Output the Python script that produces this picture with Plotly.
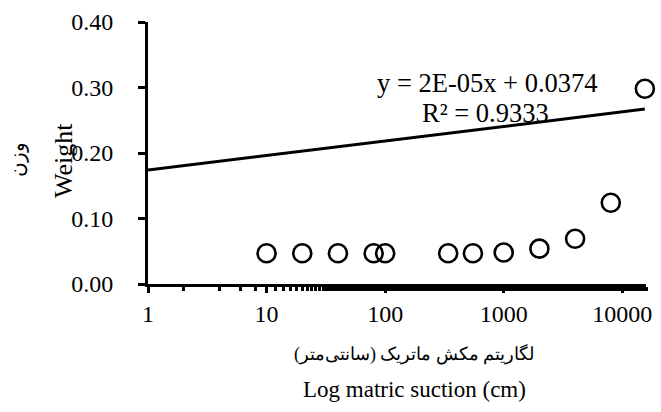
import plotly.graph_objects as go

# Data
suction_cm = [10, 20, 40, 80, 100, 340, 550, 1000, 2000, 4000, 8000, 15500]
weight = [0.047, 0.047, 0.047, 0.047, 0.047, 0.047, 0.047, 0.048, 0.054, 0.069, 0.124, 0.298]
trend_x = [1, 15500]
trend_y = [0.174, 0.267]
x_tickvals = [1, 10, 100, 1000, 10000]
x_ticktext = ["1", "10", "100", "1000", "10000"]
y_tickvals = [0.0, 0.1, 0.2, 0.3, 0.4]

FONT = "Liberation Serif, Times New Roman, serif"

fig = go.Figure()
fig.add_trace(go.Scatter(x=trend_x, y=trend_y, mode="lines",
                         line=dict(color="black", width=3), cliponaxis=False,
                         showlegend=False))
fig.add_trace(go.Scatter(x=suction_cm, y=weight, mode="markers",
                         marker=dict(symbol="circle-open", size=18, color="black",
                                     line=dict(width=2.6, color="black")),
                         cliponaxis=False, showlegend=False))

L, R, T, B = 148, 9, 20, 128
fig.update_layout(
    width=661, height=412,
    margin=dict(l=L, r=R, t=T, b=B),
    paper_bgcolor="white", plot_bgcolor="white",
    font=dict(family=FONT, size=24, color="black"),
    xaxis=dict(type="log", range=[0, 4.2],
               tickvals=x_tickvals, ticktext=x_ticktext,
               showgrid=False, zeroline=False,
               showline=True, linecolor="black", linewidth=3,
               ticks="outside", ticklen=6, tickwidth=3, tickcolor="black",
               minor=dict(ticks="outside", ticklen=4, tickwidth=2.5, tickcolor="black", showgrid=False),
               tickfont=dict(family=FONT, size=24)),
    yaxis=dict(range=[0, 0.40], tickvals=y_tickvals, tickformat=".2f",
               showgrid=False, zeroline=False,
               showline=True, linecolor="black", linewidth=3,
               ticks="outside", ticklen=7, tickwidth=3, tickcolor="black",
               ticklabelstandoff=20,
               tickfont=dict(family=FONT, size=24)),
)

def px_x(p):
    return (p - L) / (661 - L - R)

def px_y(p):
    return 1 - (p - T) / (412 - T - B)

ann = [
    dict(text="y = 2E-05x + 0.0374", x=px_x(492), y=px_y(81), size=26.5, angle=0),
    dict(text="R² = 0.9333", x=px_x(490), y=px_y(112), size=26.5, angle=0),
    dict(text="Weight", x=px_x(63), y=px_y(160), size=26, angle=-90),
    dict(text="وزن", x=px_x(16), y=px_y(158), size=20, angle=-90),
    dict(text="لگاریتم مکش ماتریک (سانتی‌متر)", x=px_x(418), y=px_y(355), size=18, angle=0),
    dict(text="Log matric suction (cm)", x=px_x(418), y=px_y(390), size=23, angle=0),
]
for a in ann:
    fig.add_annotation(text=a["text"], x=a["x"], y=a["y"], xref="paper", yref="paper",
                       xanchor="center", yanchor="middle", showarrow=False,
                       textangle=a["angle"], font=dict(family=FONT, size=a["size"], color="black"))

fig.write_html("out.html")
